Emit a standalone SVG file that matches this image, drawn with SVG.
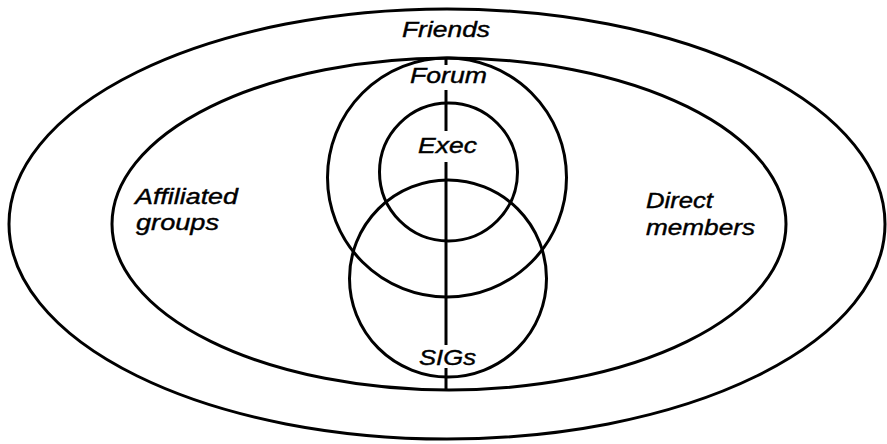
<svg xmlns="http://www.w3.org/2000/svg" width="887" height="444" viewBox="0 0 887 444">
<style>
.sh{fill:none;stroke:#000;stroke-width:3}
.ln{stroke:#000;stroke-width:3;fill:none}
.t{font-family:"Liberation Sans",Arial,sans-serif;font-style:italic;font-size:22px;fill:#000;stroke:#000;stroke-width:0.4}
</style>
<rect width="887" height="444" fill="#fff"/>
<g id="friends">
<ellipse class="sh" cx="447" cy="224" rx="438" ry="215"/>
<text class="t" x="402" y="37" textLength="88" lengthAdjust="spacingAndGlyphs">Friends</text>
</g>
<g id="members">
<ellipse class="sh" cx="449" cy="224" rx="337" ry="166"/>
</g>
<g id="affiliated">
<text class="t" x="135" y="204" textLength="103" lengthAdjust="spacingAndGlyphs">Affiliated</text>
<text class="t" x="136" y="230" textLength="83" lengthAdjust="spacingAndGlyphs">groups</text>
</g>
<g id="direct">
<text class="t" x="646" y="208" textLength="67" lengthAdjust="spacingAndGlyphs">Direct</text>
<text class="t" x="646" y="235" textLength="109" lengthAdjust="spacingAndGlyphs">members</text>
</g>
<g id="forum">
<circle class="sh" cx="447" cy="177.5" r="119.5"/>
<text class="t" x="410" y="83" textLength="77" lengthAdjust="spacingAndGlyphs">Forum</text>
</g>
<g id="exec">
<circle class="sh" cx="448.5" cy="172" r="69"/>
<text class="t" x="418" y="153" textLength="59" lengthAdjust="spacingAndGlyphs">Exec</text>
</g>
<g id="sigs">
<circle class="sh" cx="448" cy="278.5" r="98.5"/>
<text class="t" x="419" y="365" textLength="57" lengthAdjust="spacingAndGlyphs">SIGs</text>
</g>
<g id="connectors">
<line class="ln" x1="446" y1="58" x2="446" y2="65"/>
<line class="ln" x1="446" y1="90" x2="446" y2="131"/>
<line class="ln" x1="446" y1="162" x2="446" y2="345"/>
<line class="ln" x1="446" y1="368" x2="446" y2="390"/>
</g>
</svg>
